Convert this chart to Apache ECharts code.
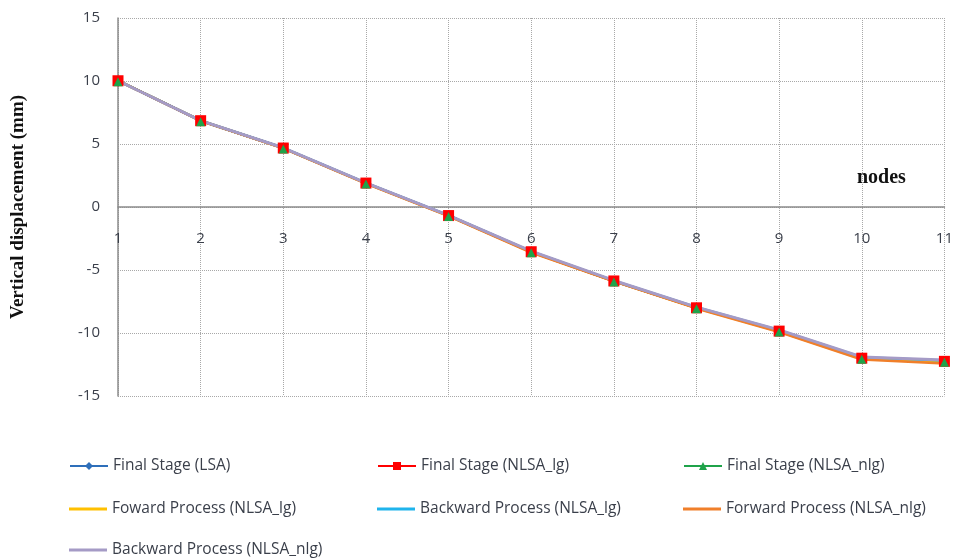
<!DOCTYPE html>
<html>
<head>
<meta charset="utf-8">
<script src="https://cdn.jsdelivr.net/npm/echarts@6/dist/echarts.min.js"></script>
<style>
  html, body { margin: 0; padding: 0; background: #fff; }
  #chart { width: 956px; height: 560px; }
</style>
</head>
<body>
<div id="chart"></div>
<script>
// nodes along the beam
var nodes = ['1','2','3','4','5','6','7','8','9','10','11'];
// vertical displacement (mm) per node
var finalLSA     = [10.02, 6.85, 4.68, 1.90, -0.68, -3.55, -5.87, -8.00, -9.85, -12.00, -12.25];
var finalLg      = [10.02, 6.85, 4.68, 1.90, -0.68, -3.55, -5.87, -8.00, -9.85, -12.00, -12.25];
var finalNlg     = [10.02, 6.85, 4.68, 1.90, -0.68, -3.55, -5.87, -8.00, -9.85, -12.00, -12.25];
var fwdLg        = [10.02, 6.85, 4.68, 1.88, -0.70, -3.57, -5.88, -8.02, -9.88, -12.05, -12.35];
var bwdLg        = [10.02, 6.86, 4.70, 1.92, -0.66, -3.52, -5.84, -7.96, -9.78, -11.92, -12.18];
var fwdNlg       = [10.02, 6.84, 4.66, 1.85, -0.73, -3.62, -5.90, -8.05, -9.92, -12.10, -12.42];
var bwdNlg       = [10.02, 6.86, 4.70, 1.92, -0.66, -3.50, -5.83, -7.95, -9.75, -11.90, -12.15];
var yTicks = { min: -15, max: 15, step: 5 };

var chart = echarts.init(document.getElementById('chart'));

var legendText = { fontFamily: 'Open Sans', fontSize: 15.5, color: '#3a3f4a' };
// one legend per entry so the 3-column layout is exact
function legendAt(left, top, name, lineOnly) {
    var item = lineOnly ? { name: name, icon: 'rect' } : name;
    return {
        left: left,
        top: top,
        padding: 0,
        itemWidth: 38,
        itemHeight: lineOnly ? 3 : 10,
        textStyle: legendText,
        data: [item]
    };
}

option = {
    backgroundColor: '#fff',
    animation: false,
    grid: { left: 118, right: 9, top: 18, bottom: 164 },
    legend: [
        legendAt(69, 458, 'Final Stage (LSA)'),
        legendAt(377, 458, 'Final Stage (NLSA_lg)'),
        legendAt(683, 458, 'Final Stage (NLSA_nlg)'),
        legendAt(69, 501, 'Foward Process (NLSA_lg)', true),
        legendAt(377, 501, 'Backward Process (NLSA_lg)', true),
        legendAt(683, 501, 'Forward Process (NLSA_nlg)', true),
        legendAt(69, 542, 'Backward Process (NLSA_nlg)', true)
    ],
    xAxis: {
        type: 'category',
        boundaryGap: false,
        data: nodes,
        axisLine: { onZero: true, lineStyle: { color: '#8c8c8c', width: 1.5 } },
        axisTick: { show: false },
        axisLabel: { margin: -165, fontFamily: 'Open Sans', fontSize: 15, color: '#3a3f4a' },
        splitLine: { show: true, lineStyle: { type: 'dotted', color: '#a8a8a8' } }
    },
    yAxis: {
        type: 'value',
        min: yTicks.min,
        max: yTicks.max,
        interval: yTicks.step,
        name: 'Vertical displacement (mm)',
        nameLocation: 'middle',
        nameGap: 90,
        nameTextStyle: { fontFamily: 'Liberation Serif', fontWeight: 'bold', fontSize: 19, color: '#111' },
        axisLine: { show: true, lineStyle: { color: '#8c8c8c', width: 1.5 } },
        axisTick: { show: false },
        axisLabel: { margin: 18, fontFamily: 'Open Sans', fontSize: 15, color: '#3a3f4a' },
        splitLine: { show: true, lineStyle: { type: 'dotted', color: '#a8a8a8' } }
    },
    graphic: [{
        type: 'text',
        left: 857,
        top: 168,
        style: { text: 'nodes', font: 'bold 20px "Liberation Serif"', fill: '#111' }
    }],
    series: [
        { name: 'Final Stage (LSA)', type: 'line', data: finalLSA, symbol: 'diamond', symbolSize: 9,
          color: '#2e6fba', lineStyle: { width: 2.5 } },
        { name: 'Final Stage (NLSA_lg)', type: 'line', data: finalLg, symbol: 'rect', symbolSize: 11,
          color: '#ff0000', lineStyle: { width: 2.5 } },
        { name: 'Final Stage (NLSA_nlg)', type: 'line', data: finalNlg, symbol: 'triangle', symbolSize: 9,
          symbolOffset: [0, 1], color: '#1fa34a', lineStyle: { width: 2.5 } },
        { name: 'Foward Process (NLSA_lg)', type: 'line', data: fwdLg, symbol: 'none',
          color: '#ffc000', lineStyle: { width: 2.5 } },
        { name: 'Backward Process (NLSA_lg)', type: 'line', data: bwdLg, symbol: 'none',
          color: '#1fb4ec', lineStyle: { width: 2.5 } },
        { name: 'Forward Process (NLSA_nlg)', type: 'line', data: fwdNlg, symbol: 'none',
          color: '#f07f2a', lineStyle: { width: 2.5 } },
        { name: 'Backward Process (NLSA_nlg)', type: 'line', data: bwdNlg, symbol: 'none',
          color: '#a59bc6', lineStyle: { width: 3 } }
    ]
};
chart.setOption(option);
</script>
</body>
</html>
